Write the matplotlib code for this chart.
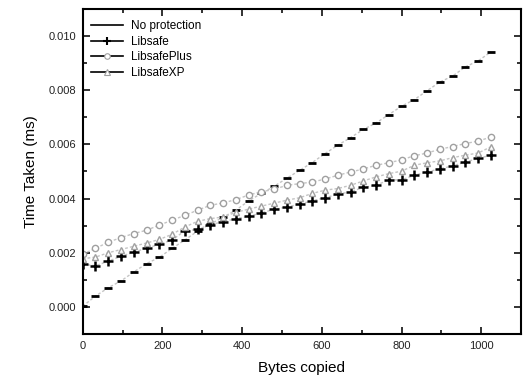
import matplotlib
matplotlib.use("Agg")
import matplotlib.pyplot as plt
from matplotlib.lines import Line2D
from matplotlib.ticker import MultipleLocator, FormatStrFormatter

# ==========================================
# data
# ==========================================
bytes_copied = list(range(0, 1025, 32))

no_protection = [0.00003, 0.00040, 0.00071, 0.00096, 0.00129, 0.00160, 0.00183, 0.00216,
                 0.00247, 0.00280, 0.00306, 0.00331, 0.00357, 0.00391, 0.00419, 0.00445,
                 0.00475, 0.00504, 0.00533, 0.00566, 0.00597, 0.00625, 0.00655, 0.00679,
                 0.00710, 0.00741, 0.00765, 0.00798, 0.00830, 0.00852, 0.00886, 0.00908,
                 0.00941]
libsafe = [0.00158, 0.00152, 0.00169, 0.00187, 0.00202, 0.00217, 0.00231, 0.00247,
           0.00281, 0.00286, 0.00304, 0.00314, 0.00326, 0.00334, 0.00347, 0.00360,
           0.00369, 0.00379, 0.00392, 0.00403, 0.00416, 0.00425, 0.00441, 0.00449,
           0.00469, 0.00469, 0.00486, 0.00498, 0.00510, 0.00520, 0.00535, 0.00548,
           0.00560]
libsafe_plus = [0.00195, 0.00216, 0.00239, 0.00256, 0.00271, 0.00283, 0.00302, 0.00320,
                0.00338, 0.00357, 0.00375, 0.00384, 0.00396, 0.00413, 0.00425, 0.00434,
                0.00449, 0.00455, 0.00461, 0.00472, 0.00486, 0.00498, 0.00509, 0.00523,
                0.00532, 0.00543, 0.00558, 0.00568, 0.00582, 0.00592, 0.00603, 0.00612,
                0.00627]
libsafe_xp = [0.00178, 0.00184, 0.00200, 0.00212, 0.00224, 0.00236, 0.00249, 0.00268,
              0.00295, 0.00316, 0.00326, 0.00332, 0.00349, 0.00361, 0.00372, 0.00383,
              0.00394, 0.00403, 0.00419, 0.00431, 0.00437, 0.00449, 0.00465, 0.00480,
              0.00492, 0.00501, 0.00523, 0.00532, 0.00539, 0.00551, 0.00560, 0.00568,
              0.00591]

labels = ["No protection", "Libsafe", "LibsafePlus", "LibsafeXP"]

plt.rcParams["font.family"] = ["Liberation Sans", "DejaVu Sans"]

# ==========================================
# plot
# ==========================================
fig = plt.figure(figsize=(5.27, 3.84), dpi=100)
ax = fig.add_axes([0.157, 0.130, 0.832, 0.847])

conn = dict(color="#c4c4c4", lw=1.0, linestyle=(0, (2, 1.5)))
ax.plot(bytes_copied, no_protection, marker="_", ms=6, mew=2.0, mec="black", **conn)
ax.plot(bytes_copied, libsafe, marker="+", ms=6.5, mew=1.8, mec="black", **conn)
ax.plot(bytes_copied, libsafe_plus, marker="o", ms=4.5, mew=1.0, mfc="white", mec="#a0a0a0", **conn)
ax.plot(bytes_copied, libsafe_xp, marker="^", ms=4.5, mew=1.0, mfc="white", mec="#a0a0a0", **conn)

ax.set_xlim(0, 1100)
ax.set_ylim(-0.001, 0.011)
ax.xaxis.set_major_locator(MultipleLocator(200))
ax.xaxis.set_minor_locator(MultipleLocator(100))
ax.yaxis.set_major_locator(MultipleLocator(0.002))
ax.yaxis.set_minor_locator(MultipleLocator(0.001))
ax.yaxis.set_major_formatter(FormatStrFormatter("%.3f"))

ax.tick_params(which="both", direction="in", top=True, right=True, width=1.3,
               labelsize=8, colors="#222222")
ax.tick_params(which="major", length=5, pad=5)
ax.tick_params(which="minor", length=3)
for s in ax.spines.values():
    s.set_linewidth(1.5)

ax.set_xlabel("Bytes copied", fontsize=11, labelpad=7)
ax.set_ylabel("Time Taken (ms)", fontsize=11, labelpad=7)

# legend: black line segments as in the original
handles = [
    Line2D([], [], color="black", lw=1.2),
    Line2D([], [], color="black", lw=1.2, marker="+", ms=6, mew=1.5),
    Line2D([], [], color="black", lw=1.2, marker="o", ms=4, mew=0.8, mfc="white", mec="#a0a0a0"),
    Line2D([], [], color="black", lw=1.2, marker="^", ms=4, mew=0.8, mfc="white", mec="#a0a0a0"),
]
ax.legend(handles, labels, loc="upper left", frameon=False, fontsize=8.5,
          handlelength=2.7, handletextpad=0.7, labelspacing=0.3,
          borderaxespad=0.3, bbox_to_anchor=(0.0, 0.99))

plt.savefig("out.png", dpi=100)
